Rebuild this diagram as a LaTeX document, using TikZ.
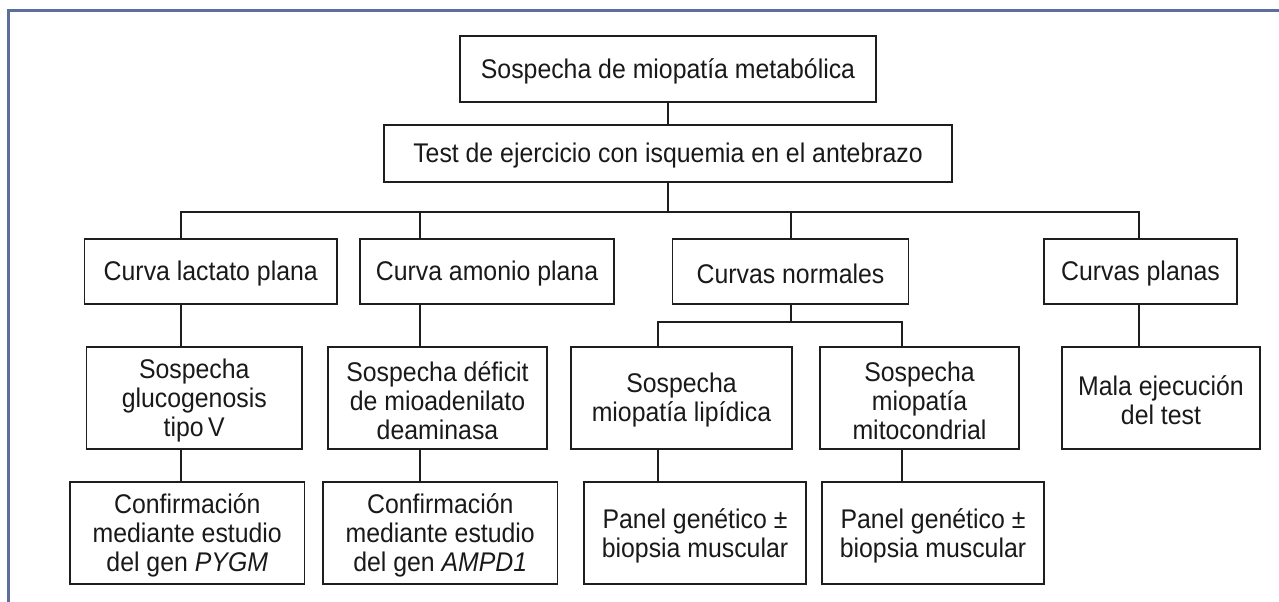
\documentclass[tikz,border=0pt]{standalone}
\usepackage{fontspec}
\setmainfont[FakeStretch=0.92]{Liberation Sans}
\definecolor{framec}{RGB}{92,110,155}
\definecolor{linec}{RGB}{30,30,30}
\definecolor{textc}{RGB}{25,25,25}
\newcommand{\mybox}[6]{%
  \node[box, minimum width=#4pt, minimum height=#5pt] (#1) at (#2,#3) {};
  \node[txt] (#1-t) at ([yshift=-2.5pt]#1.center) {#6};}
\begin{document}
\begin{tikzpicture}[x=1pt,y=-1pt,
  box/.style={draw=linec, line width=1.1pt, inner sep=0pt},
  txt/.style={text=textc, align=center, inner sep=0pt, font=\fontsize{27}{29}\selectfont},
  conn/.style={draw=linec, line width=1.1pt}]
\useasboundingbox (0,0) rectangle (1279,602);
% frame
\coordinate (fTL) at (8,11);
\coordinate (fTR) at (1279,11);
\coordinate (fBL) at (8,602);
\draw[framec, line width=3pt] (fBL) -- (fTL) -- (fTR);
% level 1, 2
\mybox{b1}{668}{69}{416}{66}{Sospecha de miopatía metabólica}
\mybox{b2}{668}{153.5}{568}{57}{Test de ejercicio con isquemia en el antebrazo}
% level 3
\mybox{lact}{210.75}{271.5}{252.5}{65}{Curva lactato plana}
\mybox{amon}{487}{271.5}{254}{65}{Curva amonio plana}
\mybox{norm}{790.5}{271.5}{236}{65}{Curvas normales}
\mybox{plan}{1140.5}{271.5}{193}{65}{Curvas planas}
% level 4
\mybox{gluc}{194.25}{398}{215.5}{102}{Sospecha\\glucogenosis\\tipo\,V}
\mybox{defi}{437.5}{398}{219}{102}{Sospecha déficit\\de mioadenilato\\deaminasa}
\mybox{lipi}{681.5}{398}{221}{102}{Sospecha\\miopatía lipídica}
\mybox{mito}{919.5}{398}{199}{102}{Sospecha\\miopatía\\mitocondrial}
\mybox{mala}{1161}{398}{198}{102}{Mala ejecución\\del test}
% level 5
\mybox{pygm}{187.25}{533}{234.5}{102}{Confirmación\\mediante estudio\\del gen \textit{PYGM}}
\mybox{ampd}{440.25}{533}{234.5}{102}{Confirmación\\mediante estudio\\del gen \textit{AMPD1}}
\mybox{pan1}{695}{533}{222}{102}{Panel genético ±\\biopsia muscular}
\mybox{pan2}{933}{533}{222}{102}{Panel genético ±\\biopsia muscular}
% helper coordinates
\coordinate (xA) at (181,0);
\coordinate (xB) at (420,0);
\coordinate (xC) at (791,0);
\coordinate (xD) at (1139,0);
\coordinate (xE) at (658,0);
\coordinate (xF) at (902,0);
\coordinate (bus) at (0,212);
\coordinate (sub) at (0,322);
% connectors
\draw[conn] (b1.south) -- (b2.north);
\draw[conn] (b2.south) -- (b2.south |- bus);
\draw[conn] (lact.north -| xA) -- (xA |- bus) -- (xD |- bus) -- (plan.north -| xD);
\draw[conn] (xB |- bus) -- (amon.north -| xB);
\draw[conn] (xC |- bus) -- (norm.north -| xC);
\draw[conn] (lact.south -| xA) -- (gluc.north -| xA);
\draw[conn] (gluc.south -| xA) -- (pygm.north -| xA);
\draw[conn] (amon.south -| xB) -- (defi.north -| xB);
\draw[conn] (defi.south -| xB) -- (ampd.north -| xB);
\draw[conn] (norm.south -| xC) -- (xC |- sub);
\draw[conn] (lipi.north -| xE) -- (xE |- sub) -- (xF |- sub) -- (mito.north -| xF);
\draw[conn] (lipi.south -| xE) -- (pan1.north -| xE);
\draw[conn] (mito.south -| xF) -- (pan2.north -| xF);
\draw[conn] (plan.south -| xD) -- (mala.north -| xD);
\end{tikzpicture}
\end{document}
